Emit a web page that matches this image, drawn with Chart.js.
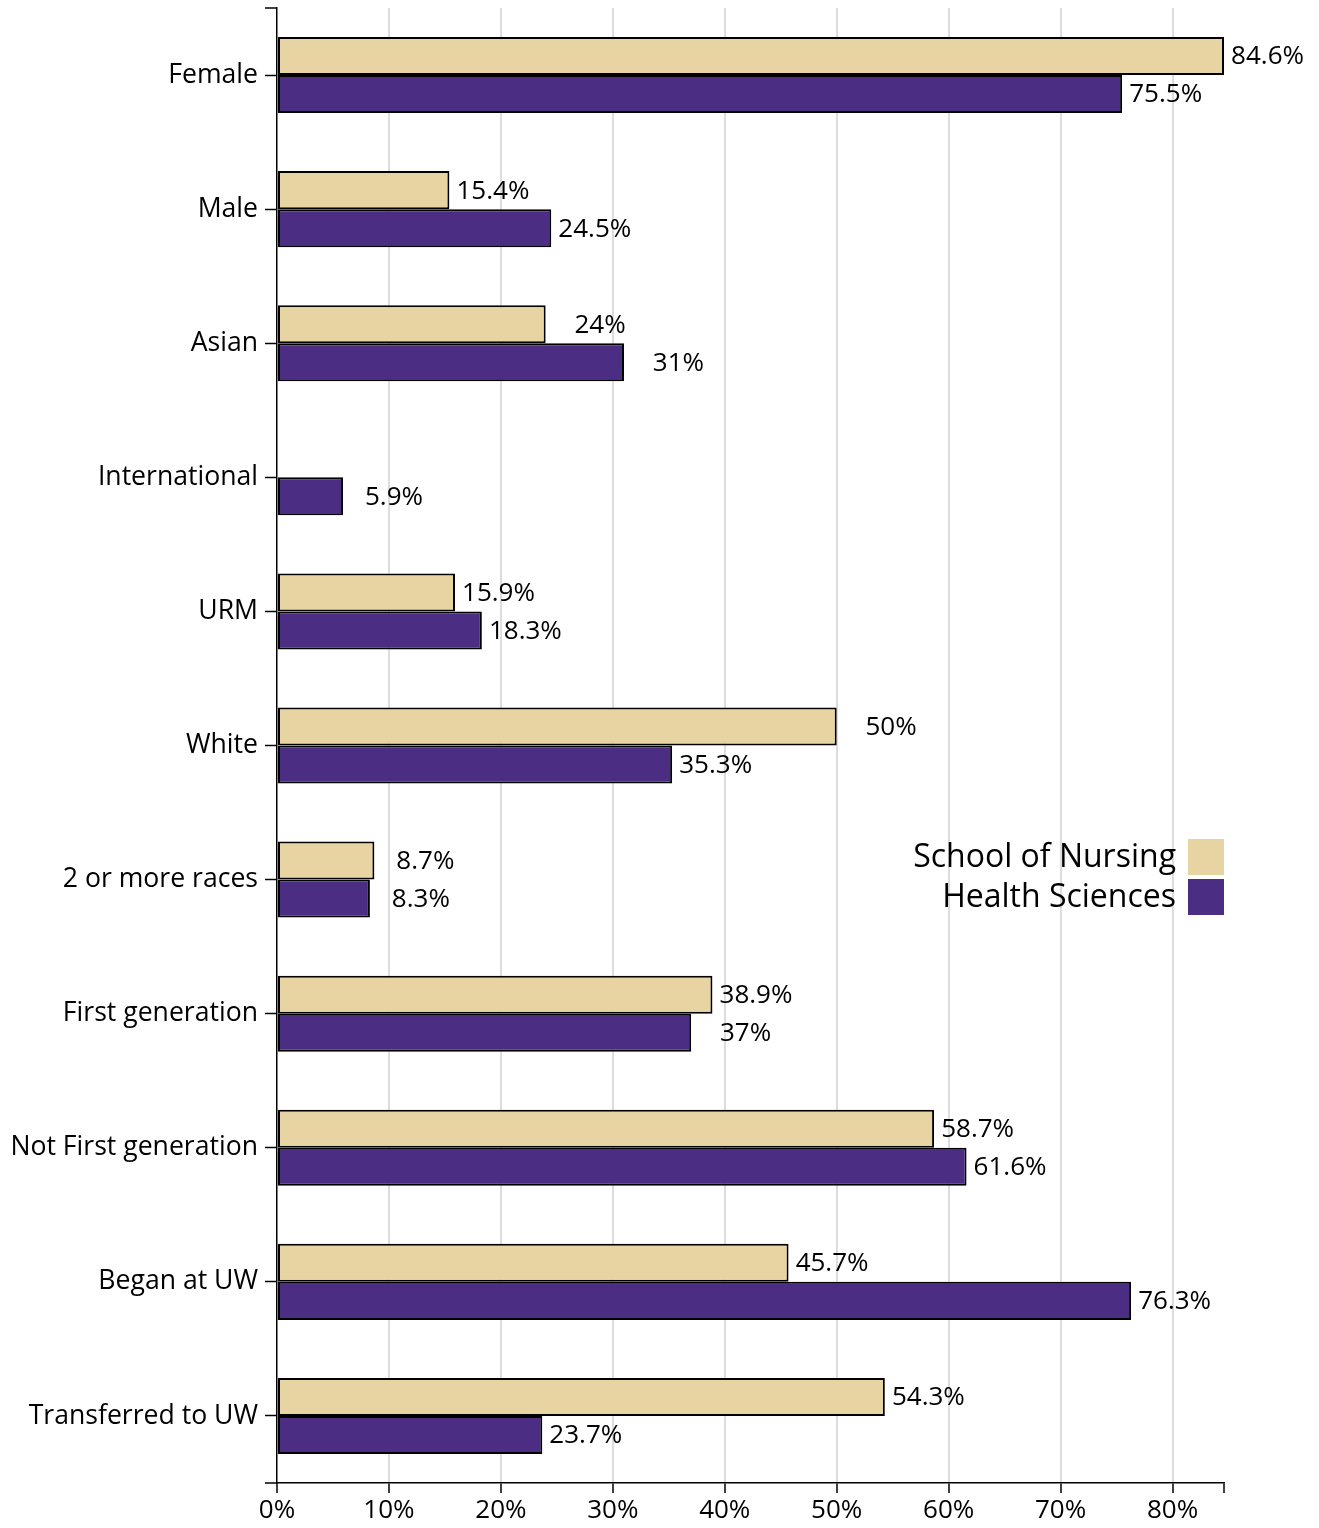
<!DOCTYPE html>
<html>
<head>
<meta charset="utf-8">
<script src="https://cdn.jsdelivr.net/npm/chart.js@4"></script>
<style>
  body { margin: 0; background: #fff; }
  canvas { display: block; }
</style>
</head>
<body>
<canvas id="chart" width="1319" height="1528"></canvas>
<script>
const categories = ['Female', 'Male', 'Asian', 'International', 'URM', 'White',
    '2 or more races', 'First generation', 'Not First generation', 'Began at UW', 'Transferred to UW'];
const nursing = [84.6, 15.4, 24, null, 15.9, 50, 8.7, 38.9, 58.7, 45.7, 54.3];
const health = [75.5, 24.5, 31, 5.9, 18.3, 35.3, 8.3, 37, 61.6, 76.3, 23.7];
const xTicks = [0, 10, 20, 30, 40, 50, 60, 70, 80];
const xMax = 84.6;

const FONT = '"Open Sans", sans-serif';

// value labels, right aligned a fixed distance past the bar end
const valueLabels = {
    id: 'valueLabels',
    afterDatasetsDraw(chart) {
        const ctx = chart.ctx;
        ctx.save();
        ctx.font = '26px ' + FONT;
        ctx.fillStyle = '#000';
        ctx.textAlign = 'right';
        ctx.textBaseline = 'middle';
        chart.data.datasets.forEach((ds, i) => {
            chart.getDatasetMeta(i).data.forEach((bar, j) => {
                const v = ds.data[j];
                if (v === null) return;
                ctx.fillText(v + '%', bar.x + 80, bar.y + 1);
            });
        });
        ctx.restore();
    }
};

// outer ticks at both ends of the y axis
const outerTicks = {
    id: 'outerTicks',
    afterDraw(chart) {
        const a = chart.chartArea, ctx = chart.ctx;
        ctx.save();
        ctx.strokeStyle = '#000';
        ctx.lineWidth = 1.5;
        ctx.beginPath();
        ctx.moveTo(a.left - 12, a.top); ctx.lineTo(a.left, a.top);
        ctx.moveTo(a.left - 12, a.bottom); ctx.lineTo(a.left, a.bottom);
        ctx.stroke();
        ctx.restore();
    }
};

// legend: text on the left, swatch on the right
const sideLegend = {
    id: 'sideLegend',
    afterDraw(chart) {
        const a = chart.chartArea, ctx = chart.ctx;
        const box = 36, gap = 4, top = 839;
        ctx.save();
        ctx.font = '32px ' + FONT;
        ctx.textAlign = 'right';
        ctx.textBaseline = 'middle';
        chart.data.datasets.forEach((ds, i) => {
            const y = top + i * (box + gap);
            ctx.fillStyle = ds.backgroundColor;
            ctx.fillRect(a.right - box, y, box, box);
            ctx.fillStyle = '#000';
            ctx.fillText(ds.label, a.right - box - 12, y + box / 2 + 1);
        });
        ctx.restore();
    }
};

function draw() {
    new Chart(document.getElementById('chart'), {
        type: 'bar',
        data: {
            labels: categories,
            datasets: [
                { label: 'School of Nursing', data: nursing, backgroundColor: '#e8d3a2' },
                { label: 'Health Sciences', data: health, backgroundColor: '#4b2e83' }
            ]
        },
        options: {
            indexAxis: 'y',
            responsive: false,
            animation: false,
            devicePixelRatio: 1,
            layout: { padding: { top: 8, right: 95, left: 0, bottom: 0 } },
            datasets: {
                bar: {
                    borderColor: '#000',
                    borderWidth: 2,
                    borderSkipped: false,
                    barPercentage: 1,
                    categoryPercentage: 0.567
                }
            },
            plugins: {
                legend: { display: false },
                tooltip: { enabled: false }
            },
            scales: {
                x: {
                    type: 'linear',
                    min: 0,
                    max: xMax,
                    afterBuildTicks(scale) {
                        scale.ticks = xTicks.concat([xMax]).map(v => ({ value: v }));
                    },
                    afterFit(scale) {
                        scale.height = 45;
                        scale.paddingLeft = 0;
                        scale.paddingRight = 0;
                    },
                    border: { color: '#000', width: 1.5 },
                    grid: {
                        color: c => (c.tick && (c.tick.value === 0 || c.tick.value > 80)) ? 'rgba(0,0,0,0)' : '#dddddd',
                        lineWidth: 2,
                        tickColor: '#000',
                        tickWidth: 1.5,
                        tickLength: 10
                    },
                    ticks: {
                        color: '#000',
                        font: { family: FONT, size: 26 },
                        padding: 2,
                        maxRotation: 0,
                        callback: v => v > 80 ? '' : v + '%'
                    }
                },
                y: {
                    afterFit(scale) {
                        scale.width = 277;
                        scale.paddingTop = 0;
                        scale.paddingBottom = 0;
                    },
                    border: { color: '#000', width: 1.5 },
                    grid: {
                        offset: false,
                        drawOnChartArea: false,
                        tickColor: '#000',
                        tickWidth: 1.5,
                        tickLength: 12
                    },
                    ticks: {
                        color: '#000',
                        font: { family: FONT, size: 26.6 },
                        padding: 7
                    }
                }
            }
        },
        plugins: [valueLabels, outerTicks, sideLegend]
    });
}

document.fonts.load('26px "Open Sans"').then(draw, draw);
</script>
</body>
</html>
